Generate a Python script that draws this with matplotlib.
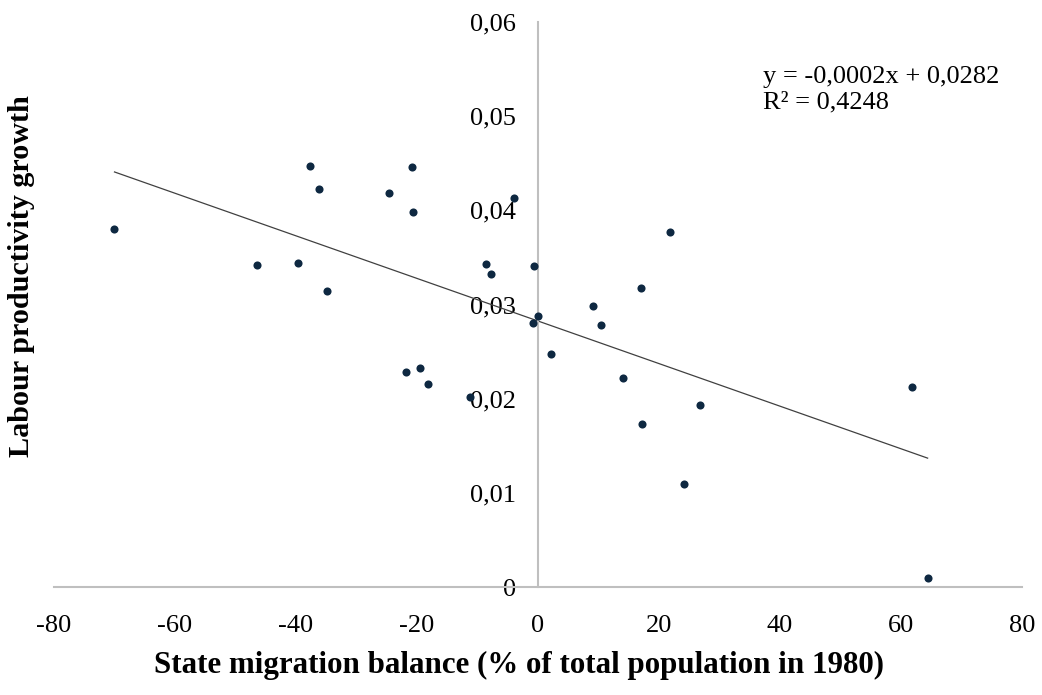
import matplotlib
matplotlib.use("Agg")
import matplotlib.pyplot as plt
from matplotlib.ticker import FuncFormatter, MultipleLocator
import numpy as np

migration = [-70.0, -46.4, -39.6, -37.7, -36.2, -34.8, -24.7, -20.9, -20.7, -21.9,
             -19.5, -18.2, -11.2, -8.6, -7.8, -4.0, -0.7, -0.05, -0.9, 2.2,
             9.1, 10.4, 14.1, 17.0, 17.2, 21.8, 24.2, 26.8, 61.9, 64.4]
productivity = [0.0380, 0.0342, 0.0344, 0.0447, 0.0423, 0.0314, 0.0418, 0.0446, 0.0398, 0.0228,
                0.0233, 0.0216, 0.0202, 0.0343, 0.0332, 0.0413, 0.0341, 0.0288, 0.0280, 0.0247,
                0.0298, 0.0278, 0.0222, 0.0317, 0.0173, 0.0377, 0.0109, 0.0193, 0.0212, 0.0010]
equation_text = "y = -0,0002x + 0,0282\nR² = 0,4248"
x_label = "State migration balance (% of total population in 1980)"
y_label = "Labour productivity growth"

plt.rcParams['font.family'] = ['Liberation Serif', 'DejaVu Serif']

fig = plt.figure(figsize=(10.42, 6.95), dpi=100)
ax = fig.add_axes([54/1042, 108/695, 968/1042, 565/695])

x = np.array(migration)
y = np.array(productivity)
ax.scatter(x, y, s=34, color='#0E2841', zorder=3, linewidths=0)

slope, intercept = np.polyfit(x, y, 1)
xs = np.array([x.min(), x.max()])
ax.plot(xs, slope * xs + intercept, color='#404040', lw=0.9, zorder=2)

ax.set_xlim(-80, 80)
ax.set_ylim(0, 0.06)
ax.xaxis.set_major_locator(MultipleLocator(20))
ax.yaxis.set_major_locator(MultipleLocator(0.01))
ax.xaxis.set_major_formatter(FuncFormatter(lambda v, p: f"{v:.0f}"))
ax.yaxis.set_major_formatter(FuncFormatter(lambda v, p: "0" if abs(v) < 1e-9 else f"{v:.2f}".replace('.', ',')))

for s in ['top', 'right']:
    ax.spines[s].set_visible(False)
ax.spines['left'].set_position(('data', 0))
ax.spines['left'].set_color('#BFBFBF')
ax.spines['bottom'].set_color('#BFBFBF')
ax.spines['left'].set_linewidth(1.5)
ax.spines['bottom'].set_linewidth(1.5)
ax.tick_params(axis='y', length=0, pad=16, labelsize=19)
ax.tick_params(axis='x', length=0, pad=20, labelsize=19)

ax.text(0.732, 0.922, equation_text, transform=ax.transAxes, fontsize=19,
        va='top', ha='left', linespacing=1.18)

fig.text(519/1042, 1 - 665/695, x_label, fontsize=22.3, fontweight='bold', ha='center', va='center')
fig.text(22/1042, 1 - 276/695, y_label, fontsize=21.7, fontweight='bold', ha='center', va='center', rotation=90)

fig.savefig("out.png", dpi=100)
